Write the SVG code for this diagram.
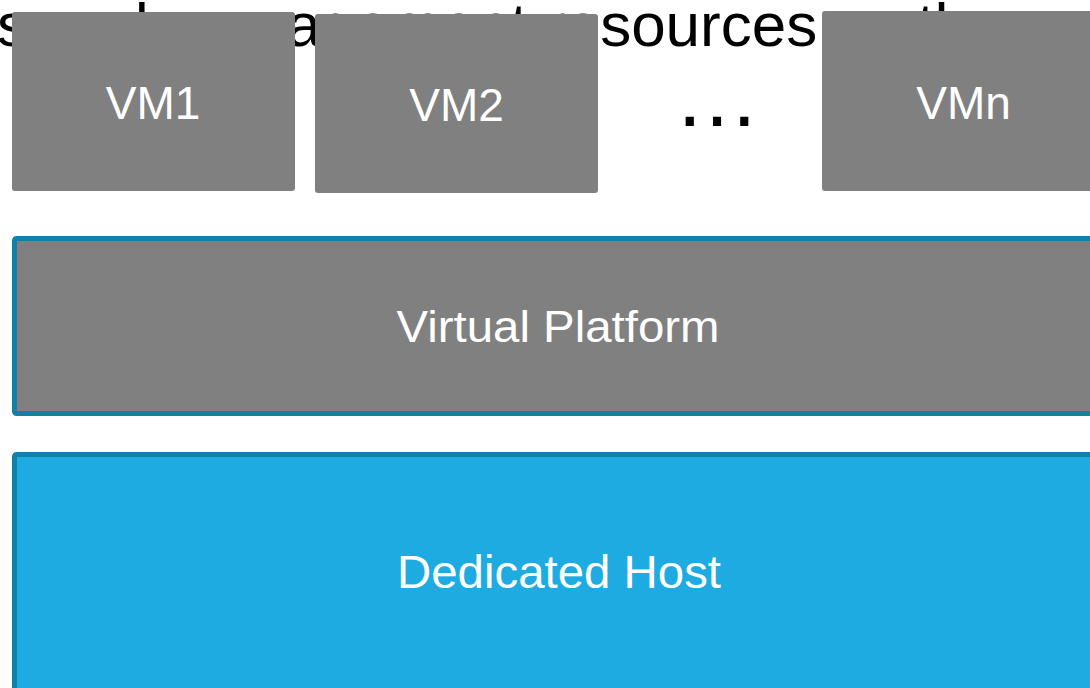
<svg xmlns="http://www.w3.org/2000/svg" width="1090" height="688" viewBox="0 0 1090 688">
  <style>
    .bgtext { font-family: "Liberation Sans", Arial, sans-serif; font-size: 62px; fill: #000000; }
    .vm { fill: #808080; }
    .label { font-family: "Liberation Sans", Arial, sans-serif; fill: #ffffff; text-anchor: middle; }
    .vmlabel { font-size: 46px; }
    .layer { stroke: #1380A8; stroke-width: 5; }
    .platform { fill: #808080; }
    .host { fill: #1EABE2; }
  </style>

  <rect width="1090" height="688" fill="#ffffff"/>

  <!-- heading line partly covered by the VM boxes -->
  <text class="bgtext" x="-3" y="46">s and management resources as the</text>

  <g id="vm1">
    <rect class="vm" x="12" y="12" width="283" height="179" rx="3"/>
    <text class="label vmlabel" x="153" y="119">VM1</text>
  </g>

  <g id="vm2">
    <rect class="vm" x="315" y="14" width="283" height="179" rx="3"/>
    <text class="label vmlabel" x="456.5" y="121">VM2</text>
  </g>

  <g id="ellipsis">
    <text x="717" y="126" font-family="Liberation Sans, Arial, sans-serif" font-size="86" text-anchor="middle" fill="#000000">…</text>
  </g>

  <g id="vmn">
    <rect class="vm" x="822" y="11" width="283" height="180" rx="3"/>
    <text class="label vmlabel" x="963.5" y="119">VMn</text>
  </g>

  <g id="virtual-platform">
    <rect class="layer platform" x="14.5" y="238.5" width="1090" height="175" rx="2"/>
    <text class="label" x="558" y="342" font-size="45" textLength="323" lengthAdjust="spacingAndGlyphs">Virtual Platform</text>
  </g>

  <g id="dedicated-host">
    <rect class="layer host" x="14.5" y="454.5" width="1090" height="240" rx="2"/>
    <text class="label" x="559" y="588" font-size="46" textLength="324" lengthAdjust="spacingAndGlyphs">Dedicated Host</text>
  </g>

  <g id="connectors"></g>
</svg>
